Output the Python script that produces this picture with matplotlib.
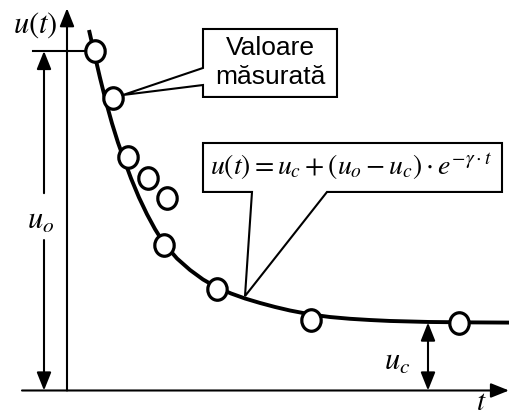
import matplotlib.pyplot as plt
from matplotlib.patches import Polygon
from matplotlib.path import Path
from matplotlib.transforms import Affine2D

plt.rcParams['mathtext.fontset'] = 'stix'

# levels of the exponential decay
u_o = 5.0
u_c = 1.0

# measured samples (t, u)
t_meas = [0.70, 1.15, 1.525, 2.025, 2.50, 2.425, 3.75, 6.10, 9.80]
u_meas = [5.00, 4.31, 3.44, 3.13, 2.84, 2.14, 1.49, 1.04, 0.99]

# fitted curve, sampled along its length
t_fit = [0.55, 0.675, 0.825, 0.975, 1.125, 1.275, 1.425, 1.60, 1.80, 2.00,
         2.20, 2.425, 2.75, 3.075, 3.40, 3.75, 4.10, 4.45, 4.825, 5.20,
         5.575, 6.10, 6.575, 7.075, 7.575, 8.075, 9.05, 10.075, 11.05]
u_fit = [5.309, 4.985, 4.605, 4.252, 3.934, 3.651, 3.404, 3.125, 2.842, 2.595,
         2.377, 2.165, 1.944, 1.775, 1.635, 1.517, 1.429, 1.355, 1.289, 1.230,
         1.178, 1.119, 1.082, 1.056, 1.038, 1.024, 1.009, 1.003, 1.000]

fig = plt.figure(figsize=(5.09, 4.15), dpi=100)
ax = fig.add_axes([0, 0, 1, 1])
ax.set_xlim(-1.675, 11.05)
ax.set_ylim(-0.361, 5.751)
ax.axis('off')

head = '-|>,head_length=0.55,head_width=0.22'
both = '<|-|>,head_length=0.55,head_width=0.22'
arr = dict(arrowstyle=head, color='k', lw=1.5, mutation_scale=20,
           shrinkA=0, shrinkB=0)

# axes with arrow heads
ax.annotate('', xy=(0, 5.63), xytext=(0, 0), arrowprops=arr)
ax.annotate('', xy=(11.05, 0), xytext=(-1.125, 0), arrowprops=arr)
ax.text(-0.8, 5.38, r'$u\left(t\right)$', fontsize=22, ha='center', va='center')
ax.text(10.35, -0.165, r'$t$', fontsize=21, ha='center', va='center')

# u_o dimension
ax.plot([-0.85, t_meas[0]], [u_o, u_o], color='k', lw=1.5)
ax.annotate('', xy=(-0.575, u_o), xytext=(-0.575, 2.906), arrowprops=arr)
ax.annotate('', xy=(-0.575, 0), xytext=(-0.575, 2.216), arrowprops=arr)
ax.text(-0.65, 2.5, r'$u_o$', fontsize=22, ha='center', va='center')

# u_c dimension
ax.annotate('', xy=(9.025, u_c), xytext=(9.025, 0),
            arrowprops=dict(arr, arrowstyle=both))
ax.text(8.25, 0.42, r'$u_c$', fontsize=22, ha='center', va='center')

# curve and measured points (slightly tall ellipses)
ring = Path.unit_circle().transformed(Affine2D().scale(0.9, 1.0))
ax.plot(t_fit, u_fit, color='k', lw=2.8, solid_capstyle='butt', zorder=3)
ax.plot(t_meas, u_meas, ls='none', marker=ring, ms=15.5, mfc='white',
        mec='k', mew=2.3, zorder=4)

# callout for the measured values
box1 = [(3.4, 5.324), (6.75, 5.324), (6.75, 4.323), (3.4, 4.323),
        (3.4, 4.499), (1.4, 4.352), (3.4, 4.75)]
ax.add_patch(Polygon(box1, closed=True, fc='white', ec='k', lw=1.5, zorder=5))
ax.text(5.075, 4.83, 'Valoare\nmăsurată', fontsize=19, family='Liberation Sans',
        ha='center', va='center', linespacing=1.22, zorder=6)

# callout for the model equation
box2 = [(3.4, 3.645), (10.875, 3.645), (10.875, 2.924), (6.5, 2.924),
        (4.45, 1.39), (4.625, 2.924), (3.4, 2.924)]
ax.add_patch(Polygon(box2, closed=True, fc='white', ec='k', lw=1.5, zorder=5))
ax.text(7.1, 3.29,
        r'$u\left(t\right)=u_c+\left(u_o-u_c\right)\cdot e^{-\gamma\cdot t}$',
        fontsize=20, ha='center', va='center', zorder=6)

fig.savefig('out.png', dpi=100)
